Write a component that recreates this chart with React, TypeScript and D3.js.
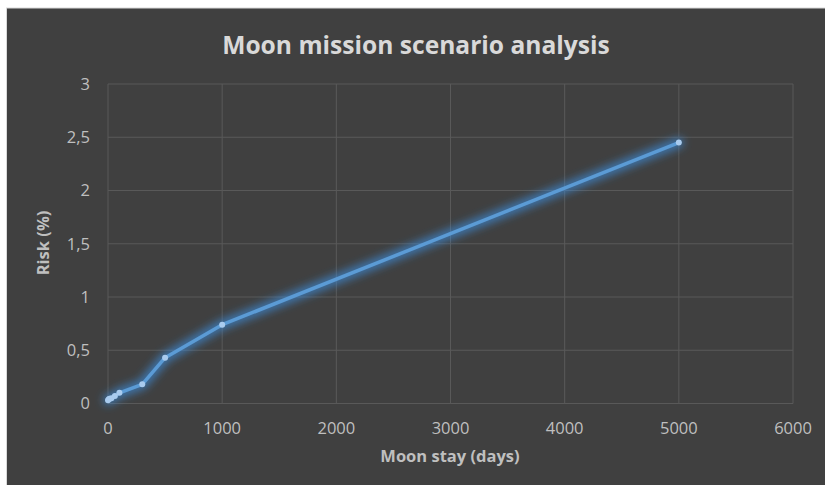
import React from "react";
import * as d3 from "d3";

const days = [0, 7, 14, 30, 60, 100, 300, 500, 1000, 5000];
const risk = [0.03, 0.04, 0.045, 0.05, 0.07, 0.1, 0.18, 0.43, 0.74, 2.45];
const xTicks = [0, 1000, 2000, 3000, 4000, 5000, 6000];
const yTicks = [0, 0.5, 1, 1.5, 2, 2.5, 3];
const yTickLabels = ["0", "0,5", "1", "1,5", "2", "2,5", "3"];
const title = "Moon mission scenario analysis";
const xTitle = "Moon stay (days)";
const yTitle = "Risk (%)";

export default function App() {
  const W = 825, H = 485;
  const x = d3.scaleLinear().domain([0, 6000]).range([108, 793]);
  const y = d3.scaleLinear().domain([0, 3]).range([403.5, 84]);
  const pts = days.map((d, i) => [d, risk[i]] as [number, number]);
  const line = d3.line<[number, number]>().x(d => x(d[0])).y(d => y(d[1]));
  const path = line(pts) || "";
  const font = "'Open Sans', sans-serif";
  return (
    <div style={{ position: "absolute", left: 0, top: 0 }}>
      <svg width={W} height={H} style={{ display: "block" }}>
        <defs>
          <filter id="glow" x="-20%" y="-20%" width="140%" height="140%">
            <feGaussianBlur stdDeviation="4.5" />
          </filter>
        </defs>
        <rect x={0} y={0} width={W} height={H} fill="#ffffff" />
        <rect x={6} y={7.5} width={W - 6} height={H - 7.5} fill="#d9d9d9" />
        <rect x={7} y={8.5} width={W - 7} height={H - 8.5} fill="#404040" />
        {yTicks.map(t => (
          <line key={"gy" + t} x1={x(0)} x2={x(6000)} y1={y(t)} y2={y(t)} stroke="#595959" strokeWidth={1} />
        ))}
        {xTicks.map(t => (
          <line key={"gx" + t} x1={x(t)} x2={x(t)} y1={y(0)} y2={y(3)} stroke="#595959" strokeWidth={1} />
        ))}
        {yTicks.map((t, i) => (
          <text key={"ty" + t} x={90} y={y(t)} dy="0.35em" textAnchor="end" fill="#bfbfbf" fontFamily={font} fontSize={16.5}>
            {yTickLabels[i]}
          </text>
        ))}
        {xTicks.map(t => (
          <text key={"tx" + t} x={x(t)} y={428} dy="0.35em" textAnchor="middle" fill="#bfbfbf" fontFamily={font} fontSize={16.5}>
            {String(t)}
          </text>
        ))}
        <text x={416} y={45} dy="0.35em" textAnchor="middle" fill="#d9d9d9" fontFamily={font} fontWeight={700} fontSize={24.6}>
          {title}
        </text>
        <text x={450} y={456} dy="0.35em" textAnchor="middle" fill="#bfbfbf" fontFamily={font} fontWeight={700} fontSize={16.5}>
          {xTitle}
        </text>
        <text transform={`translate(43,243) rotate(-90)`} dy="0.35em" textAnchor="middle" fill="#bfbfbf" fontFamily={font} fontWeight={700} fontSize={16.5}>
          {yTitle}
        </text>
        <g filter="url(#glow)">
          <path d={path} fill="none" stroke="#3d8fe0" strokeWidth={10} strokeOpacity={0.7} strokeLinejoin="round" strokeLinecap="round" />
        </g>
        <path d={path} fill="none" stroke="#5b9bd5" strokeWidth={3.5} strokeLinejoin="round" strokeLinecap="round" />
        {pts.map((p, i) => (
          <circle key={"p" + i} cx={x(p[0])} cy={y(p[1])} r={3} fill="#a9cbee" />
        ))}
      </svg>
    </div>
  );
}
